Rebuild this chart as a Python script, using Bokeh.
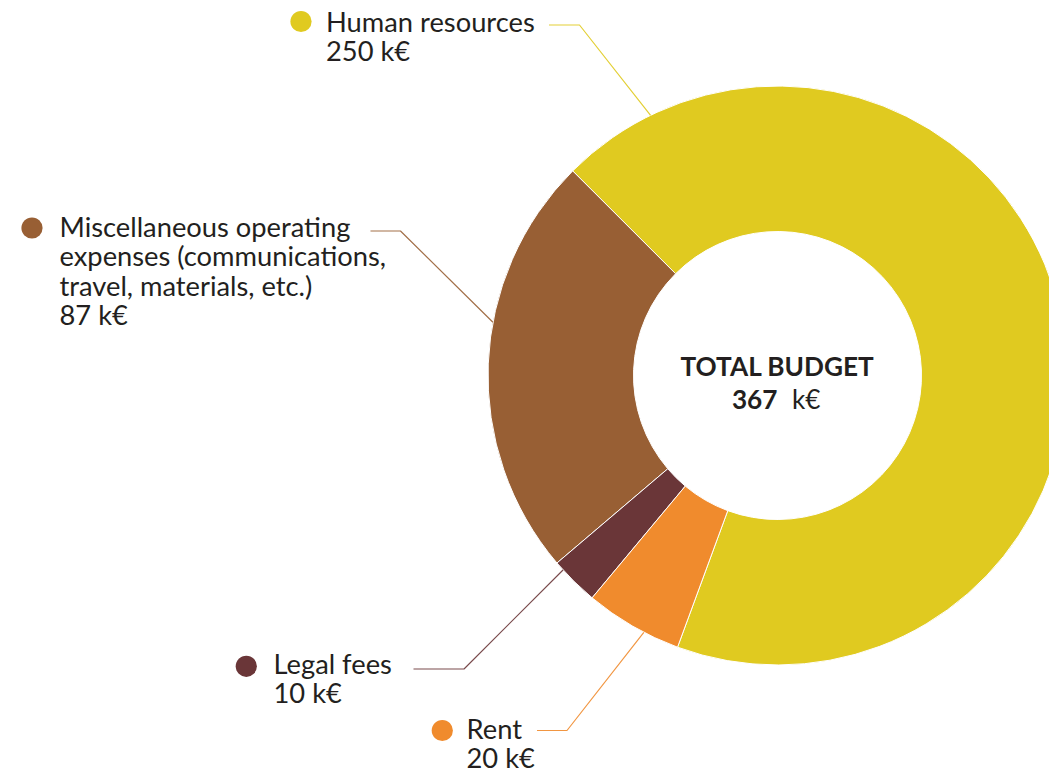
import math
from bokeh.plotting import figure
from bokeh.models import Range1d
from bokeh.core.properties import value
from bokeh.embed import file_html
from bokeh.resources import INLINE

# ---- data ----
categories = ["Human resources",
              "Miscellaneous operating\nexpenses (communications,\ntravel, materials, etc.)",
              "Legal fees",
              "Rent"]
amounts = [250, 87, 10, 20]
unit = "k€"
colors = ["#E0CA20", "#985F34", "#6A3638", "#F08B2D"]
center_title = "TOTAL BUDGET"

# ---- layout (screen pixel coordinates of the 1049x768 page) ----
W, H = 1049, 768
CX, CY = 777.0, 375.0
R_OUT, R_IN = 289.5, 144.0
START_DEG = -110.2          # where the first slice begins (anticlockwise)
FONT = "Lato"
TEXT_COLOR = "#231F20"
TEXT_SHIFT = -10.0          # baseline correction for the renderer

# per-label: dot centre, text left, first baseline, line start x, elbow x, elbow y, anchor angle on ring
label_layout = [
    dict(dot=(300.5, 21.0), tx=325.5, by=30.5, lx0=548.5, lx1=579.0, ly=24.5, ang=116.0),
    dict(dot=(31.5, 227.5), tx=59.0, by=235.5, lx0=370.0, lx1=400.0, ly=230.5, ang=169.4),
    dict(dot=(245.8, 665.8), tx=273.0, by=672.5, lx0=413.0, lx1=463.5, ly=668.5, ang=222.2),
    dict(dot=(441.8, 730.0), tx=466.0, by=737.5, lx0=536.5, lx1=566.5, ly=730.0, ang=242.5),
]
LINE_H = 29.6


def Y(sy):
    return H - sy


def TY(sy):
    return H - (sy + TEXT_SHIFT)


p = figure(width=W, height=H, output_backend="svg", toolbar_location=None,
           x_range=Range1d(0, W), y_range=Range1d(0, H),
           min_border=0, outline_line_color=None, background_fill_color="white",
           border_fill_color="white")
p.axis.visible = False
p.grid.visible = False

# ---- donut ----
total = sum(amounts)
starts, ends = [], []
a = START_DEG
for v in amounts:
    starts.append(math.radians(a))
    a += v / total * 360.0
    ends.append(math.radians(a))

p.annular_wedge(x=[CX] * len(amounts), y=[Y(CY)] * len(amounts),
                inner_radius=R_IN, outer_radius=R_OUT,
                start_angle=starts, end_angle=ends,
                direction="anticlock", fill_color=colors,
                line_color="white", line_width=1.0)

# ---- labels ----
for name, v, col, lay in zip(categories, amounts, colors, label_layout):
    dx, dy = lay["dot"]
    p.circle(x=[dx], y=[Y(dy)], radius=10.6, fill_color=col, line_color=None)
    lines = name.split("\n") + [f"{v} {unit}"]
    p.text(x=[lay["tx"]] * len(lines),
           y=[TY(lay["by"] + i * LINE_H) for i in range(len(lines))],
           text=lines, text_font=value(FONT), text_font_size="27.3px",
           text_color=TEXT_COLOR, text_baseline="alphabetic", text_align="left")
    ang = math.radians(lay["ang"])
    ex = CX + R_OUT * math.cos(ang)
    ey = Y(CY) + R_OUT * math.sin(ang)
    p.line(x=[lay["lx0"], lay["lx1"], ex], y=[Y(lay["ly"]), Y(lay["ly"]), ey],
           line_color=col, line_width=1.2, line_alpha=0.9)

# ---- centre text ----
p.text(x=[CX], y=[TY(375.8)], text=[center_title], text_font=value(FONT),
       text_font_size="26.2px", text_font_style="bold", text_color=TEXT_COLOR,
       text_align="center", text_baseline="alphabetic")
p.text(x=[CX], y=[TY(408.5)], text=[f"{total}"], text_font=value(FONT),
       text_font_size="26.2px", text_font_style="bold", text_color=TEXT_COLOR,
       text_align="right", text_baseline="alphabetic")
p.text(x=[CX + 14.5], y=[TY(408.5)], text=[unit], text_font=value(FONT),
       text_font_size="26.2px", text_color=TEXT_COLOR,
       text_align="left", text_baseline="alphabetic")

open("out.html", "w").write(file_html(p, INLINE))
